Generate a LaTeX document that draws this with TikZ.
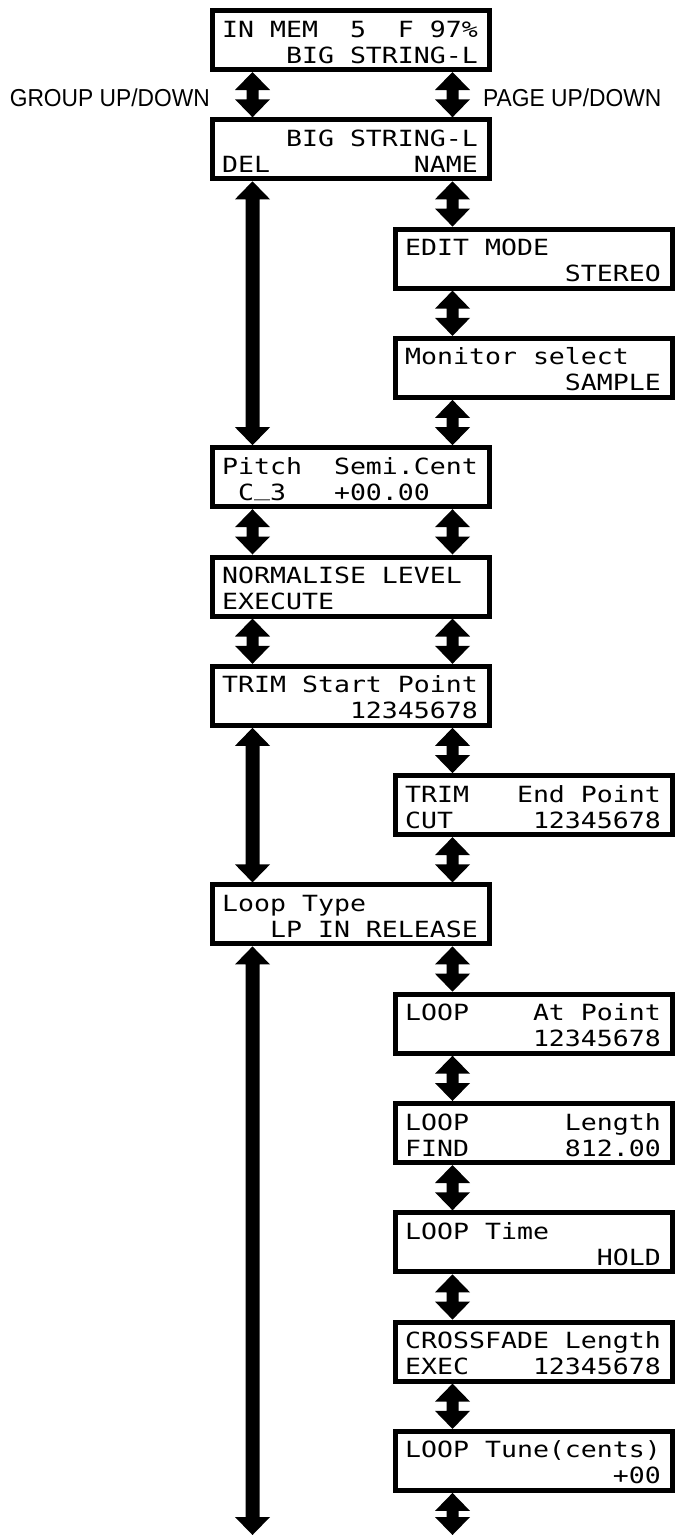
\documentclass[tikz,border=0pt]{standalone}
\usepackage{fontspec}
\usetikzlibrary{calc}
\newfontfamily\lcdfont{DejaVu Sans Mono}[FakeStretch=1.19]
\newfontfamily\lblfont{Liberation Sans}[FakeStretch=0.93]
\tikzset{
  lcdbox/.style={draw=black, line width=5pt, fill=white, inner sep=0pt,
    minimum width=277pt, minimum height=59pt, anchor=north west},
  lcdtxt/.style={inner sep=0pt, anchor=base west,
    font=\lcdfont\fontsize{22.3pt}{26pt}\selectfont},
  lbl/.style={inner sep=0pt, font=\lblfont\fontsize{24.5pt}{28pt}\selectfont}
}
% double-headed block arrow: #1 shaft half width, #2 top point, #3 bottom point
\newcommand\dblarr[3][6]{%
  \fill[black] let \p1=#2, \p2=#3 in
    (\x1,\y1) -- (\x1+17.5pt,\y1-18pt) -- (\x1+#1pt,\y1-18pt)
    -- (\x1+#1pt,\y2+18pt) -- (\x1+17.5pt,\y2+18pt) -- (\x1,\y2)
    -- (\x1-17.5pt,\y2+18pt) -- (\x1-#1pt,\y2+18pt)
    -- (\x1-#1pt,\y1-18pt) -- (\x1-17.5pt,\y1-18pt) -- cycle;}
% two LCD lines in one text node: name, box node, line1, line2
\newcommand\lcd[4]{%
  \node[lcdtxt] (#1) at ([xshift=12pt,yshift=-29pt]#2.north west)
    {\vtop{\baselineskip=26pt\lineskiplimit=-1000pt\hbox{#3}\hbox{#4}}};}
\newcommand\lcdus{\raisebox{5pt}{\symbol{95}}}
\begin{document}
\begin{tikzpicture}[x=1pt,y=-1pt]
\useasboundingbox (0,0) rectangle (675,1535);
\fill[white] (0,0) rectangle (675,1535);
\coordinate (L) at (252.5,0);
\coordinate (R) at (452.5,0);
\coordinate (bottom) at (0,1535);

\node[lcdbox] (b0) at (210,8) {};
\node[lcdbox] (b1) at (210,117.3) {};
\node[lcdbox] (b2) at (393,226.6) {};
\node[lcdbox] (b3) at (393,335.9) {};
\node[lcdbox] (b4) at (210,445.2) {};
\node[lcdbox] (b5) at (210,554.5) {};
\node[lcdbox] (b6) at (210,663.8) {};
\node[lcdbox] (b7) at (393,773.1) {};
\node[lcdbox] (b8) at (210,882.4) {};
\node[lcdbox] (b9) at (393,991.7) {};
\node[lcdbox] (b10) at (393,1101) {};
\node[lcdbox] (b11) at (393,1210.3) {};
\node[lcdbox] (b12) at (393,1319.6) {};
\node[lcdbox] (b13) at (393,1428.9) {};

\lcd{t0}{b0}{IN~MEM~~5~~F~97\%}{~~~~BIG~STRING-L}
\lcd{t1}{b1}{~~~~BIG~STRING-L}{DEL~~~~~~~~~NAME}
\lcd{t2}{b2}{EDIT~MODE}{~~~~~~~~~~STEREO}
\lcd{t3}{b3}{Monitor~select}{~~~~~~~~~~SAMPLE}
\lcd{t4}{b4}{Pitch~~Semi.Cent}{~C\lcdus3~~~+00.00}
\lcd{t5}{b5}{NORMALISE~LEVEL}{EXECUTE}
\lcd{t6}{b6}{TRIM~Start~Point}{~~~~~~~~12345678}
\lcd{t7}{b7}{TRIM~~~End~Point}{CUT~~~~~12345678}
\lcd{t8}{b8}{Loop~Type}{~~~LP~IN~RELEASE}
\lcd{t9}{b9}{LOOP~~~~At~Point}{~~~~~~~~12345678}
\lcd{t10}{b10}{LOOP~~~~~~Length}{FIND~~~~~~812.00}
\lcd{t11}{b11}{LOOP~Time}{~~~~~~~~~~~~HOLD}
\lcd{t12}{b12}{CROSSFADE~Length}{EXEC~~~~12345678}
\lcd{t13}{b13}{LOOP~Tune(cents)}{~~~~~~~~~~~~~+00}

\node[lbl, anchor=base east] (grp) at (210,106) {GROUP UP/DOWN};
\node[lbl, anchor=base west] (pg) at (483,106) {PAGE UP/DOWN};

% left column arrows
\dblarr{(b0.south -| L)}{(b1.north -| L)}
\dblarr[7]{(b1.south -| L)}{(b4.north -| L)}
\dblarr{(b4.south -| L)}{(b5.north -| L)}
\dblarr{(b5.south -| L)}{(b6.north -| L)}
\dblarr[7]{(b6.south -| L)}{(b8.north -| L)}
\dblarr[7]{(b8.south -| L)}{(bottom -| L)}
% right column arrows
\dblarr{(b0.south -| R)}{(b1.north -| R)}
\dblarr{(b1.south -| R)}{(b2.north -| R)}
\dblarr{(b2.south -| R)}{(b3.north -| R)}
\dblarr{(b3.south -| R)}{(b4.north -| R)}
\dblarr{(b4.south -| R)}{(b5.north -| R)}
\dblarr{(b5.south -| R)}{(b6.north -| R)}
\dblarr{(b6.south -| R)}{(b7.north -| R)}
\dblarr{(b7.south -| R)}{(b8.north -| R)}
\dblarr{(b8.south -| R)}{(b9.north -| R)}
\dblarr{(b9.south -| R)}{(b10.north -| R)}
\dblarr{(b10.south -| R)}{(b11.north -| R)}
\dblarr{(b11.south -| R)}{(b12.north -| R)}
\dblarr{(b12.south -| R)}{(b13.north -| R)}
\dblarr{(b13.south -| R)}{(bottom -| R)}
\end{tikzpicture}
\end{document}
